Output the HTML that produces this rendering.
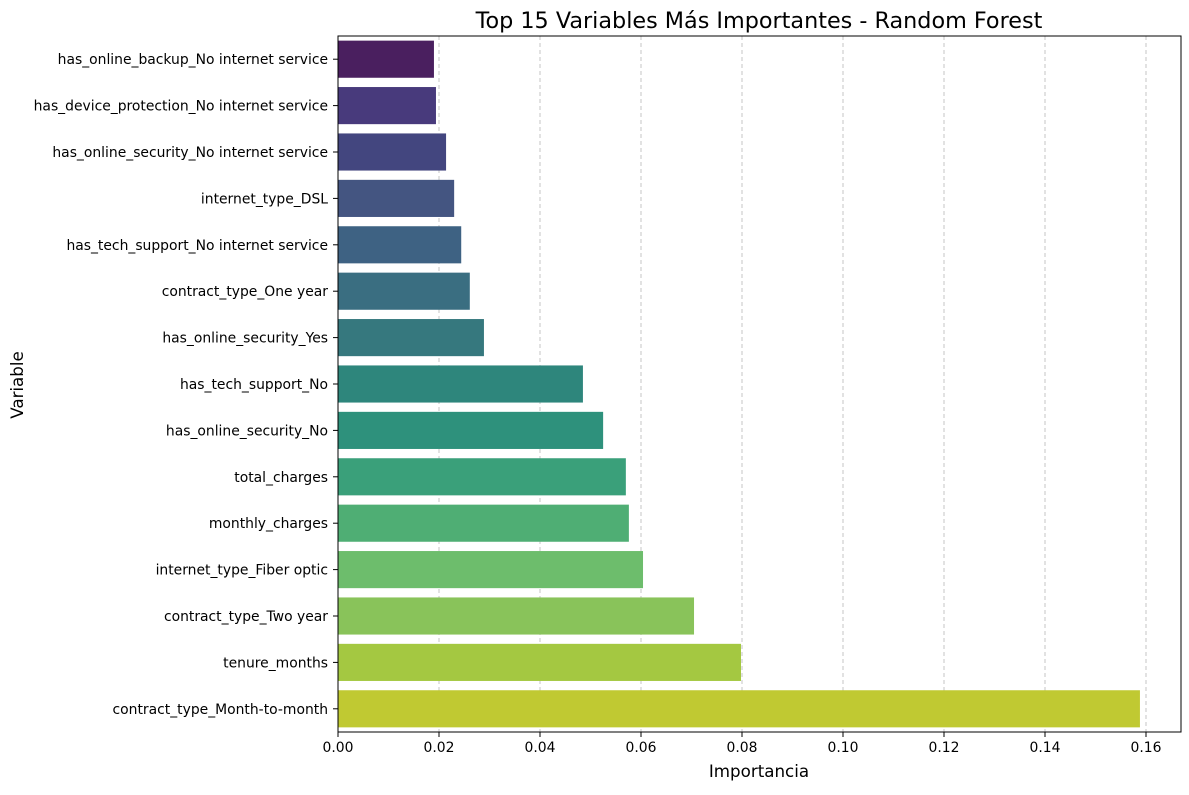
<!DOCTYPE html>
<html><head><meta charset="utf-8"><style>
body{margin:0;background:#fff;font-family:"Liberation Sans","DejaVu Sans",sans-serif}
</style></head><body>
<svg id="chart" width="1189" height="790" xmlns="http://www.w3.org/2000/svg" font-family="'DejaVu Sans','Liberation Sans',sans-serif">
<rect width="1189" height="790" fill="#fff"/>
<text x="759" y="28" font-size="22.3" text-anchor="middle" fill="#000">Top 15 Variables Más Importantes - Random Forest</text>
<text x="759" y="777" font-size="16.7" text-anchor="middle">Importancia</text>
<text transform="translate(23,385) rotate(-90)" font-size="16.7" text-anchor="middle">Variable</text>
<g id="grid"></g><g id="bars"></g><g id="xt"></g><g id="yt"></g>
<rect x="338" y="36" width="843" height="696" fill="none" stroke="#000" stroke-width="1"/>
</svg>
<script>
const categories=["has_online_backup_No internet service","has_device_protection_No internet service","has_online_security_No internet service","internet_type_DSL","has_tech_support_No internet service","contract_type_One year","has_online_security_Yes","has_tech_support_No","has_online_security_No","total_charges","monthly_charges","internet_type_Fiber optic","contract_type_Two year","tenure_months","contract_type_Month-to-month"];
const values=[0.0190,0.0194,0.0214,0.0230,0.0244,0.0261,0.0289,0.0485,0.0525,0.0570,0.0576,0.0604,0.0705,0.0798,0.1588];
const xTicks=[0,0.02,0.04,0.06,0.08,0.10,0.12,0.14,0.16];
const xTickLabels=["0.00","0.02","0.04","0.06","0.08","0.10","0.12","0.14","0.16"];
const colors=["#4a1f5f","#483a7c","#43467f","#445581","#3e6283","#3a6e81","#36787e","#2e867c","#2e917c","#3aa07a","#4fae74","#6dbd6c","#89c35a","#a4c841","#c0c932"];
const NS="http://www.w3.org/2000/svg";
const x0=338,y0=36,h=696,xMax=0.16693;
const xs=v=>x0+v/xMax*843;
const step=h/categories.length;
const yc=i=>y0+step*(i+0.5);
function mk(t,a,p){const e=document.createElementNS(NS,t);for(const k in a)e.setAttribute(k,a[k]);p.appendChild(e);return e;}
const G=document.getElementById('grid'),B=document.getElementById('bars'),XT=document.getElementById('xt'),YT=document.getElementById('yt');
xTicks.forEach((v,i)=>{
 const l=mk('line',{x1:xs(v),x2:xs(v),y1:y0,y2:y0+h,stroke:'#b8b8b8','stroke-dasharray':'4,3','stroke-width':0.8},G);
 
 
 mk('line',{x1:xs(v),x2:xs(v),y1:y0+h,y2:y0+h+5,stroke:'#000'},XT);
 const t=mk('text',{x:xs(v),y:y0+h+20,'font-size':13.9,'text-anchor':'middle'},XT);
 t.textContent=xTickLabels[i];
 
 
});
categories.forEach((c,i)=>{
 const r=mk('rect',{x:x0,y:yc(i)-step*0.4,width:xs(values[i])-x0,height:step*0.8,fill:colors[i]},B);
 
 
 mk('line',{x1:x0-5,x2:x0,y1:yc(i),y2:yc(i),stroke:'#000'},YT);
 const t=mk('text',{x:x0-10,y:yc(i)+5,'font-size':13.9,'text-anchor':'end'},YT);
 t.textContent=c;
 
 
});
</script>
</body></html>
